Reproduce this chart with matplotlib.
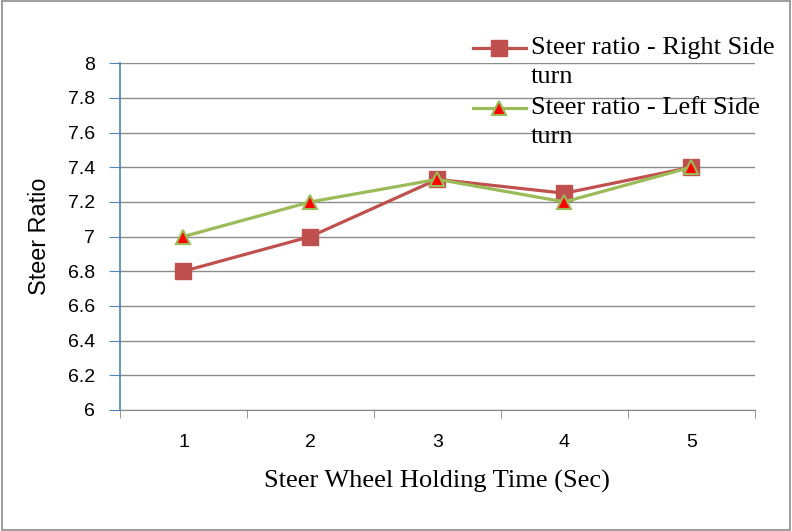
import numpy as np
import matplotlib.pyplot as plt
from matplotlib.ticker import FuncFormatter, MultipleLocator, FixedLocator
from matplotlib.patches import Rectangle

plt.rcParams['font.family'] = ['Liberation Serif', 'DejaVu Serif']

hold_time = [1, 2, 3, 4, 5]
right_turn = [6.8, 7.0, 7.33, 7.25, 7.4]
left_turn = [7.0, 7.2, 7.33, 7.2, 7.4]

fig = plt.figure(figsize=(7.92, 5.31), dpi=100)
ax = fig.add_axes([0.1515, 0.228, 0.8015, 0.653])

ax.plot(hold_time, right_turn, color='#C0504D', lw=2.3, marker='s', ms=11,
        mfc='#C0504D', mec='#C0504D', label='Steer ratio - Right Side\nturn')
ax.plot(hold_time, left_turn, color='#9BBB59', lw=2.3, marker='^', ms=10,
        mfc='#FF0000', mec='#9BBB59', mew=1.5, label='Steer ratio - Left Side\nturn')

ax.set_xlim(0.5, 5.5)
ax.set_ylim(6, 8)
ax.yaxis.set_major_locator(MultipleLocator(0.2))
ax.yaxis.set_major_formatter(FuncFormatter(lambda v, p: '%g' % round(v, 1)))
ax.set_xticks(hold_time)
ax.xaxis.set_minor_locator(FixedLocator([0.5, 1.5, 2.5, 3.5, 4.5, 5.5]))
ax.tick_params(axis='x', which='major', length=0, pad=17, labelsize=14)
ax.tick_params(axis='x', which='minor', length=6, color='#868686')
ax.tick_params(axis='y', length=8, color='#4F81BD', labelsize=14, pad=10)
for lab in ax.get_xticklabels() + ax.get_yticklabels():
    lab.set_family(['Liberation Sans', 'DejaVu Sans'])

ax.grid(axis='y', color='#8C8C8C', lw=1)
ax.set_axisbelow(True)
for s in ['top', 'right']:
    ax.spines[s].set_visible(False)
ax.spines['left'].set_color('#4F81BD')
ax.spines['left'].set_linewidth(1.2)
ax.spines['bottom'].set_color('#868686')

ax.set_xlabel('Steer Wheel Holding Time (Sec)', fontsize=19, labelpad=14)
ax.set_ylabel('Steer Ratio', fontsize=16.8, labelpad=12, family=['Liberation Sans', 'DejaVu Sans'])

leg = ax.legend(loc='upper left', bbox_to_anchor=(0.584, 0.95), bbox_transform=fig.transFigure,
                frameon=False, fontsize=19, handlelength=2.0, handletextpad=0.2,
                labelspacing=0.35, borderaxespad=0)
for t in leg.get_texts():
    t.set_linespacing(1.4)
# put the legend line next to the first text line, as in the original
for h in leg.legend_handles:
    h.set_ydata(np.asarray(h.get_ydata()) + 10)

fig.patches.append(Rectangle((0.002, 0.002), 0.996, 0.996, transform=fig.transFigure,
                             fill=False, edgecolor='#8C8C8C', lw=1.2))

fig.savefig('out.png', dpi=100)
